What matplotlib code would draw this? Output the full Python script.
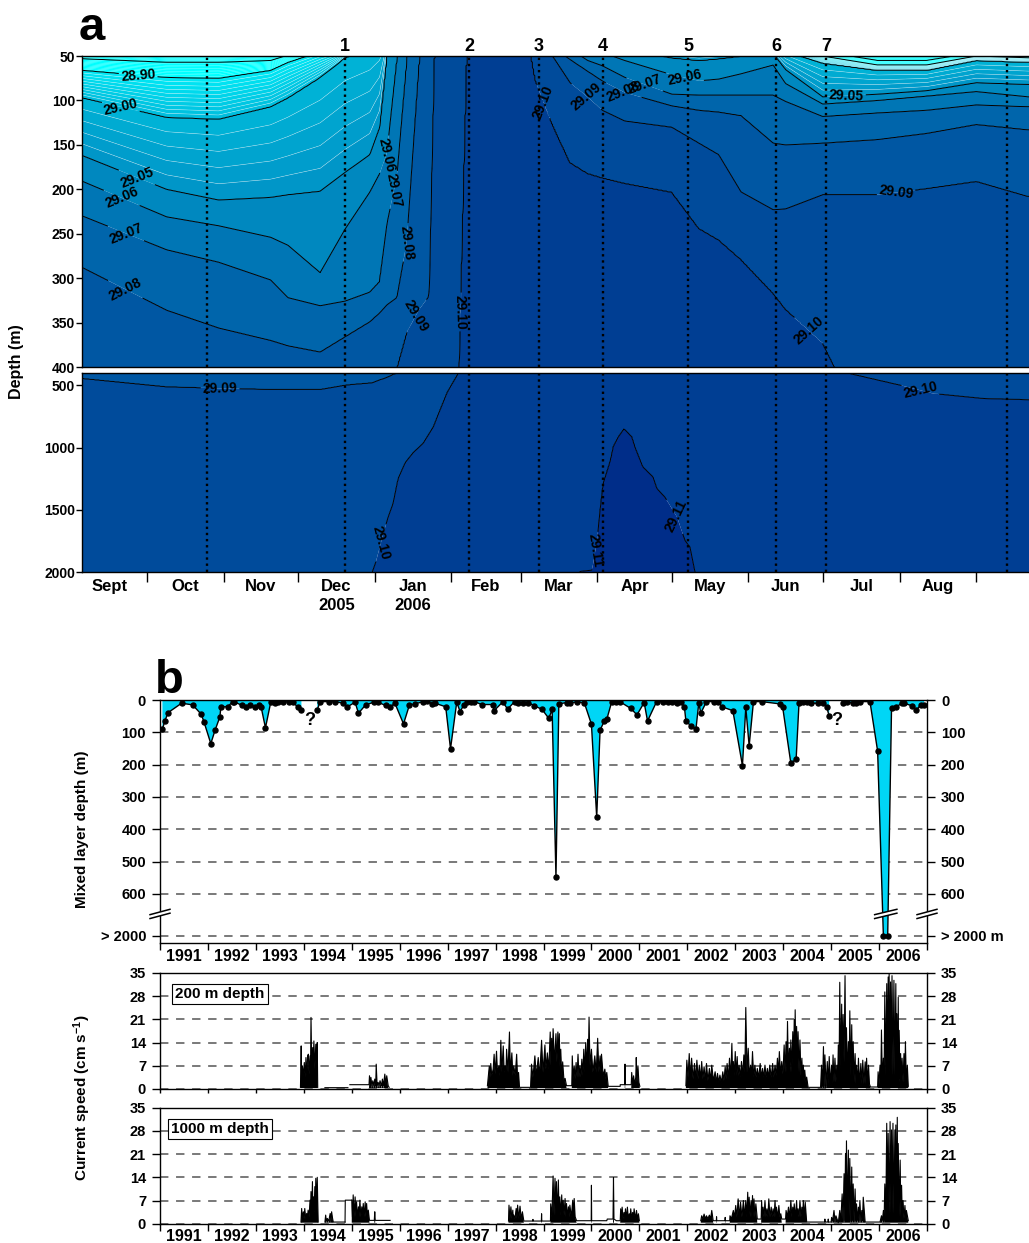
#!/usr/bin/env python3
import numpy as np
import matplotlib
matplotlib.use("Agg")
import matplotlib.pyplot as plt
import matplotlib.transforms as mtransforms

plt.rcParams["font.family"] = ["Liberation Sans", "DejaVu Sans"]
plt.rcParams["font.weight"] = "bold"
plt.rcParams["axes.labelweight"] = "bold"
plt.rcParams["mathtext.default"] = "regular"

# ======================
# Panel a data: depth (m) of each isopycnal at each profile
# time axis = days since 1 Sep 2005
# ======================
sig_levels = [28.70, 28.80, 28.90, 29.00, 29.05, 29.06, 29.07, 29.08, 29.09, 29.10, 29.11]
up_days = [4, 38, 59, 80, 87, 100, 110, 120, 124, 127, 131, 135, 140, 144, 146, 156, 159,
           185, 187, 194, 201, 208, 214, 223, 242, 253, 261, 270, 283, 288, 303, 325, 345, 365, 386]
up_depths = [
    [45, 53, 66, 97, 162, 191, 230, 288, 443, 2600, 3000],
    [46, 57, 74, 119, 200, 231, 268, 336, 510, 2600, 3000],
    [47, 57, 75, 121, 212, 241, 282, 356, 521, 2600, 3000],
    [46, 55, 66, 107, 209, 254, 302, 370, 531, 2600, 3000],
    [40, 49, 57, 97, 206, 263, 322, 376, 531, 2600, 3000],
    [30, 38, 45, 74, 202, 294, 331, 383, 531, 2600, 3000],
    [25, 32, 40, 52, 181, 245, 326, 366, 497, 2600, 3000],
    [20, 25, 32, 42, 161, 203, 316, 349, 478, 2050, 3000],
    [15, 20, 27, 36, 130, 182, 304, 339, 440, 1900, 3000],
    [10, 15, 20, 30, 45, 159, 238, 330, 420, 1600, 3000],
    [8, 12, 16, 25, 38, 50, 185, 322, 400, 1300, 3000],
    [6, 10, 14, 20, 30, 40, 50, 260, 360, 1120, 3000],
    [5, 8, 12, 16, 25, 32, 40, 50, 335, 1000, 3000],
    [4, 6, 10, 14, 20, 28, 35, 42, 320, 900, 3000],
    [3, 5, 8, 12, 18, 25, 32, 40, 50, 800, 3000],
    [2, 4, 6, 10, 15, 20, 28, 35, 42, 400, 3000],
    [2, 4, 6, 10, 15, 20, 25, 30, 38, 50, 3000],
    [2, 4, 6, 10, 15, 20, 25, 30, 38, 45, 3000],
    [2, 4, 6, 10, 15, 20, 25, 32, 45, 77, 3000],
    [3, 5, 8, 12, 18, 25, 32, 40, 50, 128, 3000],
    [4, 6, 10, 15, 22, 30, 42, 54, 80, 170, 3000],
    [5, 8, 12, 18, 28, 40, 55, 67, 96, 182, 3000],
    [6, 10, 15, 22, 35, 46, 61, 78, 111, 187, 3000],
    [8, 12, 18, 28, 42, 55, 74, 91, 123, 193, 3000],
    [10, 15, 22, 40, 52, 71, 93, 106, 130, 203, 3000],
    [10, 15, 22, 42, 55, 78, 94, 111, 148, 244, 3000],
    [10, 15, 22, 42, 53, 76, 94, 113, 161, 257, 3000],
    [10, 15, 22, 40, 50, 70, 94, 117, 203, 279, 3000],
    [10, 15, 22, 38, 47, 60, 94, 148, 223, 317, 3000],
    [15, 22, 30, 45, 65, 81, 101, 150, 222, 335, 3000],
    [40, 45, 50, 58, 96, 104, 118, 148, 206, 373, 3000],
    [47, 55, 60, 66, 93, 100, 114, 144, 206, 497, 3000],
    [47, 55, 60, 66, 89, 95, 111, 137, 199, 564, 3000],
    [40, 46, 50, 55, 80, 90, 105, 127, 191, 604, 3000],
    [40, 47, 52, 57, 82, 96, 107, 133, 208, 614, 3000],
]
lo_levels = [29.08, 29.09, 29.10, 29.11, 29.12]
lo_days = [4.0, 38.0, 59.1, 79.7, 100.4, 110.0, 113.3, 120.9, 122.5, 125.4, 127.4, 129.4, 131.4,
           134.3, 137.5, 141.5, 145.6, 147.2, 151.2, 155.7, 158.9, 200.9, 205.0, 209.8, 211.8,
           213.0, 214.2, 217.1, 218.3, 220.3, 222.7, 226.0, 227.2, 230.4, 234.5, 236.1, 239.3,
           244.2, 247.4, 249.4, 251.4, 253.5, 302.7, 313.2, 334.3, 347.6, 367.8, 386.3]
lo_depths = [
    [300, 443, 2600, 3000, 4000], [336, 510, 2600, 3000, 4000], [356, 521, 2600, 3000, 4000],
    [370, 531, 2600, 3000, 4000], [383, 530, 2600, 3000, 4000], [366, 497, 2600, 3000, 4000],
    [360, 490, 2060, 3000, 4000], [349, 478, 2010, 3000, 4000], [345, 465, 1920, 3000, 4000],
    [340, 445, 1700, 3000, 4000], [335, 430, 1560, 3000, 4000], [325, 410, 1450, 3000, 4000],
    [320, 398, 1250, 3000, 4000], [290, 365, 1120, 3000, 4000], [200, 345, 1040, 3000, 4000],
    [100, 335, 965, 3000, 4000], [50, 310, 833, 3000, 4000], [45, 60, 752, 3000, 4000],
    [40, 50, 555, 3000, 4000], [40, 45, 400, 3000, 4000], [40, 45, 50, 3000, 4000],
    [54, 80, 170, 2080, 4000], [60, 88, 176, 1995, 4000], [70, 100, 184, 1985, 4000],
    [74, 105, 186, 1750, 4000], [77, 108, 187, 1500, 4000], [78, 111, 188, 1290, 4000],
    [82, 114, 190, 1105, 4000], [84, 116, 190, 990, 4000], [86, 118, 191, 914, 4000],
    [90, 122, 193, 846, 4000], [94, 124, 195, 914, 4000], [96, 125, 195, 994, 4000],
    [99, 126, 197, 1155, 4000], [102, 127, 199, 1236, 4000], [103, 128, 200, 1330, 4000],
    [105, 129, 201, 1398, 4000], [107, 130, 205, 1559, 4000], [107, 135, 220, 1747, 4000],
    [108, 140, 232, 1800, 4000], [110, 145, 240, 2000, 4000], [111, 148, 244, 2100, 4000],
    [148, 206, 373, 3000, 4000], [146, 206, 400, 3000, 4000], [140, 205, 497, 3000, 4000],
    [137, 200, 564, 3000, 4000], [127, 192, 604, 3000, 4000], [133, 208, 614, 3000, 4000],
]
event_days = [54.3, 110.0, 160.1, 188.4, 214.3, 248.6, 284.2, 304.4, 377.5]
event_names = ["", "1", "2", "3", "4", "5", "6", "7", ""]
month_edges = [0, 30, 61, 91, 122, 153, 181, 212, 242, 273, 303, 334, 365]
month_names = ["Sept", "Oct", "Nov", "Dec\n2005", "Jan\n2006", "Feb", "Mar", "Apr", "May",
               "Jun", "Jul", "Aug"]

# ======================
# Panel b data
# ======================
DEEP = 2000  # "> 2000 m"
mld = [
    (1991.05, 91), (1991.10, 65), (1991.17, 39), (1991.45, 10), (1991.68, 15), (1991.86, 44),
    (1991.92, 69), (1992.06, 135), (1992.15, 93), (1992.25, 52), (1992.27, 21), (1992.41, 21),
    (1992.52, 5), (1992.55, 6), (1992.72, 17), (1992.79, 22), (1992.87, 15), (1992.98, 22),
    (1993.06, 15), (1993.11, 22), (1993.20, 86), (1993.31, 7), (1993.39, 9), (1993.47, 7),
    (1993.56, 5), (1993.69, 6), (1993.78, 7), (1993.87, 22), (1993.95, 31),
    (np.nan, np.nan),
    (1994.28, 31), (1994.34, 5), (1994.53, 5), (1994.65, 6), (1994.81, 9), (1994.91, 21),
    (1995.07, 7), (1995.14, 41), (1995.29, 15), (1995.46, 7), (1995.54, 7), (1995.71, 17),
    (1995.80, 22), (1995.90, 10), (1996.08, 74), (1996.20, 17), (1996.31, 12), (1996.48, 6),
    (1996.56, 3), (1996.67, 12), (1996.74, 10), (1996.96, 21), (1997.06, 151), (1997.19, 7),
    (1997.26, 36), (1997.34, 15), (1997.41, 5), (1997.49, 5), (1997.56, 5), (1997.71, 14),
    (1997.94, 14), (1997.97, 33), (1998.15, 6), (1998.25, 28), (1998.40, 5), (1998.47, 8),
    (1998.58, 8), (1998.68, 8), (1998.81, 18), (1998.97, 29), (1999.11, 57), (1999.18, 29),
    (1999.26, 549), (1999.32, 12), (1999.48, 8), (1999.56, 8), (1999.70, 7), (1999.85, 8),
    (2000.00, 75), (2000.11, 363), (2000.18, 93), (2000.27, 65), (2000.32, 60), (2000.42, 7),
    (2000.51, 7), (2000.59, 5), (2000.82, 26), (2000.95, 46), (2001.10, 8), (2001.17, 65),
    (2001.36, 5), (2001.50, 5), (2001.60, 5), (2001.69, 5), (2001.78, 10), (2001.87, 5),
    (2001.94, 23), (2001.97, 64), (2002.07, 80), (2002.18, 90), (2002.24, 8), (2002.28, 41),
    (2002.40, 5), (2002.56, 5), (2002.64, 5), (2002.72, 21), (2002.95, 33), (2003.15, 203),
    (2003.22, 23), (2003.29, 142), (2003.38, 5), (2003.55, 5), (2003.93, 12), (2003.99, 23),
    (2004.16, 196), (2004.27, 183), (2004.33, 10), (2004.42, 5), (2004.50, 5), (2004.59, 10),
    (2004.73, 10), (2004.84, 8), (2004.91, 23), (2004.96, 50),
    (np.nan, np.nan),
    (2005.25, 10), (2005.34, 5), (2005.45, 10), (2005.52, 8), (2005.60, 5), (2005.81, 5),
    (2005.97, 158), (2006.09, DEEP), (2006.18, DEEP), (2006.26, 26), (2006.35, 23),
    (2006.47, 10), (2006.52, 10), (2006.69, 18), (2006.78, 31), (2006.87, 15), (2006.94, 15),
]
unknown_years = [1994.12, 2005.12]

GAP = (np.nan, np.nan)
cur200 = [
    (1993.930, 0.5), (1993.945, 13.0), (1993.955, 3.0), (1993.970, 7.0), (1993.990, 4.0),
    (1994.010, 8.0), (1994.030, 3.5), (1994.045, 9.5), (1994.060, 4.0), (1994.080, 10.0),
    (1994.095, 10.5), (1994.110, 4.5), (1994.130, 10.0), (1994.140, 5.0), (1994.150, 21.6),
    (1994.165, 6.0), (1994.185, 12.5), (1994.195, 6.0), (1994.210, 14.5), (1994.230, 6.0),
    (1994.250, 13.5), (1994.265, 7.0), (1994.280, 14.0), (1994.290, 0.5), GAP,
    (1994.44, 0.4), (1994.92, 0.4), GAP,
    (1994.96, 1.3), (1995.36, 1.3), (1995.37, 4.0), (1995.39, 1.5), (1995.40, 3.5), (1995.42, 1.0),
    (1995.44, 2.5), (1995.46, 1.0), (1995.48, 3.0), (1995.50, 1.0), (1995.51, 7.5), (1995.53, 1.0),
    (1995.55, 2.0), (1995.57, 1.0), (1995.59, 2.5), (1995.62, 1.0), (1995.64, 3.0), (1995.66, 1.0),
    (1995.69, 4.5), (1995.71, 1.5), (1995.73, 4.0), (1995.76, 1.0), (1995.78, 0.5), GAP,
    (1997.83, 1.0), (1997.85, 4.0), (1997.87, 7.0), (1997.885, 3.5), (1997.90, 7.7), (1997.92, 4.0),
    (1997.95, 6.0), (1997.97, 10.5), (1997.99, 4.5), (1998.02, 11.4), (1998.04, 5.0), (1998.07, 7.0),
    (1998.09, 4.0), (1998.11, 14.7), (1998.13, 5.0), (1998.16, 13.0), (1998.18, 5.0), (1998.20, 7.0),
    (1998.215, 4.0), (1998.23, 12.0), (1998.26, 5.0), (1998.29, 17.2), (1998.31, 5.0),
    (1998.34, 10.9), (1998.36, 4.0), (1998.38, 7.0), (1998.41, 4.0), (1998.44, 10.5), (1998.46, 3.0),
    (1998.48, 5.0), (1998.50, 0.5), (1998.73, 0.5),
    (1998.75, 7.5), (1998.78, 3.5), (1998.82, 10.0), (1998.85, 4.0), (1998.89, 9.5), (1998.92, 4.0),
    (1998.96, 14.7), (1998.99, 5.0), (1999.03, 13.3), (1999.05, 6.0), (1999.08, 10.9), (1999.11, 6.0),
    (1999.14, 17.2), (1999.155, 7.0), (1999.17, 15.3), (1999.185, 7.0), (1999.20, 18.2),
    (1999.23, 8.0), (1999.26, 16.7), (1999.28, 8.0), (1999.30, 17.2), (1999.315, 8.0),
    (1999.33, 16.7), (1999.345, 6.0), (1999.36, 12.0), (1999.38, 4.0), (1999.40, 8.2), (1999.43, 2.0),
    (1999.45, 3.2), (1999.48, 1.0), (1999.59, 1.0),
    (1999.60, 10.0), (1999.62, 3.0), (1999.64, 7.0), (1999.66, 3.0), (1999.68, 8.0), (1999.70, 3.5),
    (1999.72, 10.5), (1999.74, 3.5), (1999.76, 7.0), (1999.78, 3.5), (1999.80, 9.0), (1999.82, 4.0),
    (1999.84, 12.0), (1999.86, 5.0), (1999.88, 14.0), (1999.90, 6.0), (1999.92, 15.0),
    (1999.935, 7.0), (1999.95, 21.7), (1999.97, 7.0), (2000.00, 12.0), (2000.03, 5.0),
    (2000.07, 10.0), (2000.10, 5.0), (2000.13, 15.3), (2000.155, 5.0), (2000.18, 10.0),
    (2000.195, 5.0), (2000.21, 10.5), (2000.245, 4.0), (2000.28, 6.0), (2000.30, 3.0),
    (2000.32, 5.0), (2000.35, 0.8), (2000.60, 0.8), (2000.60, 1.3), (2000.695, 1.3), (2000.70, 7.5),
    (2000.705, 1.3), (2000.83, 1.3),
    (2000.84, 5.0), (2000.86, 1.5), (2000.88, 4.0), (2000.90, 1.5), (2000.925, 3.5), (2000.935, 9.5),
    (2000.95, 2.0), (2000.97, 7.0), (2000.99, 2.0), (2001.01, 0.8), GAP,
    (2001.97, 1.0), (2001.99, 8.7), (2002.015, 3.5), (2002.04, 10.7), (2002.065, 3.5), (2002.09, 9.3),
    (2002.12, 3.0), (2002.15, 7.7), (2002.175, 3.0), (2002.20, 8.7), (2002.225, 3.0), (2002.25, 7.2),
    (2002.275, 3.0), (2002.30, 8.3), (2002.325, 3.0), (2002.35, 6.7), (2002.375, 2.5),
    (2002.40, 7.7), (2002.43, 2.5), (2002.46, 6.2), (2002.485, 2.5), (2002.51, 7.2), (2002.545, 2.5),
    (2002.58, 5.2), (2002.605, 2.0), (2002.63, 4.7), (2002.655, 2.0), (2002.68, 4.2), (2002.71, 2.0),
    (2002.74, 5.2), (2002.765, 2.5), (2002.79, 6.7), (2002.81, 3.0), (2002.83, 7.7), (2002.855, 3.0),
    (2002.88, 9.3), (2002.905, 3.5), (2002.93, 13.8), (2002.945, 4.0), (2002.96, 8.3),
    (2002.98, 4.0), (2003.00, 11.3), (2003.02, 4.0), (2003.04, 9.8), (2003.06, 4.0), (2003.08, 7.2),
    (2003.105, 3.5), (2003.13, 8.3), (2003.155, 4.0), (2003.18, 10.3), (2003.20, 5.0),
    (2003.22, 24.6), (2003.245, 5.0), (2003.27, 12.3), (2003.295, 4.0), (2003.32, 7.2),
    (2003.34, 4.0), (2003.36, 11.3), (2003.385, 3.5), (2003.41, 7.2), (2003.435, 3.5),
    (2003.46, 6.2), (2003.49, 3.5), (2003.52, 7.7), (2003.545, 3.5), (2003.57, 6.2), (2003.595, 3.5),
    (2003.62, 7.2), (2003.645, 3.5), (2003.67, 6.2), (2003.695, 3.5), (2003.72, 7.2), (2003.75, 3.5),
    (2003.78, 7.7), (2003.805, 3.5), (2003.83, 7.2), (2003.855, 4.0), (2003.88, 9.3), (2003.90, 4.5),
    (2003.92, 11.3), (2003.945, 4.5), (2003.97, 8.3), (2003.995, 4.5), (2004.02, 13.3),
    (2004.04, 5.0), (2004.06, 14.3), (2004.075, 5.0), (2004.09, 20.4), (2004.11, 5.0),
    (2004.13, 12.3), (2004.145, 5.0), (2004.16, 14.8), (2004.18, 5.0), (2004.20, 17.3),
    (2004.215, 6.0), (2004.23, 20.9), (2004.24, 7.0), (2004.25, 23.9), (2004.265, 7.0),
    (2004.28, 18.9), (2004.295, 6.0), (2004.31, 17.3), (2004.33, 5.0), (2004.35, 14.8),
    (2004.37, 4.0), (2004.39, 9.3), (2004.405, 3.0), (2004.42, 7.2), (2004.435, 2.5), (2004.45, 5.7),
    (2004.47, 2.0), (2004.49, 3.6), (2004.52, 0.5), (2004.78, 0.5),
    (2004.80, 7.2), (2004.82, 0.8), (2004.84, 12.8), (2004.855, 1.0), (2004.87, 10.3),
    (2004.895, 1.0), (2004.92, 8.3), (2004.94, 1.5), (2004.96, 9.8), (2004.985, 1.5), (2005.01, 7.2),
    (2005.025, 1.5), (2005.04, 10.3), (2005.06, 2.0), (2005.08, 9.3), (2005.10, 2.0), (2005.12, 7.2),
    (2005.135, 2.0), (2005.15, 13.3), (2005.165, 3.0), (2005.18, 32.2), (2005.20, 6.0),
    (2005.22, 25.6), (2005.235, 6.0), (2005.25, 22.5), (2005.27, 8.0), (2005.29, 34.2),
    (2005.305, 6.0), (2005.32, 18.5), (2005.34, 4.0), (2005.36, 14.3), (2005.375, 4.0),
    (2005.39, 23.6), (2005.41, 4.0), (2005.43, 19.4), (2005.445, 3.0), (2005.46, 14.3),
    (2005.48, 2.0), (2005.50, 10.7), (2005.515, 1.5), (2005.53, 7.2), (2005.55, 1.5), (2005.57, 9.3),
    (2005.595, 1.5), (2005.62, 7.7), (2005.64, 1.5), (2005.66, 8.7), (2005.685, 1.5), (2005.71, 8.2),
    (2005.725, 1.5), (2005.74, 9.3), (2005.76, 1.5), (2005.78, 7.2), (2005.80, 1.5), (2005.82, 0.6),
    (2005.97, 0.6),
    (2005.98, 5.2), (2006.00, 1.5), (2006.02, 7.2), (2006.035, 1.5), (2006.05, 17.8), (2006.07, 2.0),
    (2006.09, 9.3), (2006.105, 3.0), (2006.12, 29.3), (2006.14, 4.0), (2006.16, 31.8),
    (2006.175, 4.0), (2006.19, 33.8), (2006.20, 6.0), (2006.21, 35.0), (2006.225, 5.0),
    (2006.24, 32.3), (2006.255, 5.0), (2006.27, 34.2), (2006.29, 4.0), (2006.31, 32.8),
    (2006.33, 4.0), (2006.35, 31.8), (2006.36, 4.0), (2006.37, 22.7), (2006.385, 3.0),
    (2006.40, 27.7), (2006.41, 3.0), (2006.42, 17.7), (2006.435, 2.0), (2006.45, 10.7),
    (2006.465, 2.0), (2006.48, 9.3), (2006.50, 2.0), (2006.52, 10.7), (2006.535, 2.0),
    (2006.55, 14.3), (2006.57, 1.5), (2006.59, 7.2), (2006.61, 0.8),
]
cur1000 = [
    (1993.94, 0.5), (1993.955, 4.6), (1993.97, 1.5), (1993.99, 3.6), (1994.005, 1.5), (1994.02, 4.6),
    (1994.04, 1.5), (1994.06, 3.1), (1994.075, 1.5), (1994.09, 4.1), (1994.11, 2.0), (1994.13, 7.1),
    (1994.14, 3.0), (1994.15, 9.7), (1994.165, 3.0), (1994.18, 12.7), (1994.19, 3.0), (1994.20, 8.1),
    (1994.215, 3.5), (1994.23, 11.2), (1994.24, 4.0), (1994.25, 13.7), (1994.265, 5.0),
    (1994.28, 14.0), (1994.30, 0.5), GAP,
    (1994.44, 0.5), (1994.456, 2.6), (1994.47, 0.8), (1994.49, 1.6), (1994.52, 0.8), (1994.55, 3.1),
    (1994.565, 0.8), (1994.58, 3.6), (1994.60, 1.6), (1994.615, 0.5), (1994.86, 0.5), GAP,
    (1995.00, 7.1), (1995.015, 2.0), (1995.03, 8.7), (1995.05, 2.0), (1995.07, 8.1), (1995.085, 2.0),
    (1995.10, 6.6), (1995.12, 2.0), (1995.14, 5.1), (1995.155, 2.0), (1995.17, 7.1), (1995.19, 2.0),
    (1995.21, 5.1), (1995.225, 2.0), (1995.24, 6.1), (1995.26, 2.0), (1995.28, 6.6), (1995.295, 2.0),
    (1995.31, 6.1), (1995.33, 1.6), (1995.345, 4.1), (1995.37, 1.0), (1995.47, 1.0), (1995.48, 3.6),
    (1995.49, 1.0), (1995.80, 1.0), GAP,
    (1998.27, 0.8), (1998.28, 5.6), (1998.30, 1.5), (1998.32, 5.1), (1998.34, 1.5), (1998.36, 4.1),
    (1998.37, 1.5), (1998.38, 2.6), (1998.405, 1.5), (1998.43, 4.6), (1998.445, 1.5), (1998.46, 5.6),
    (1998.485, 1.5), (1998.51, 5.3), (1998.535, 1.5), (1998.56, 3.6), (1998.59, 0.8), (1998.775, 0.8),
    (1998.78, 1.3), (1998.785, 0.8), (1998.955, 0.8), (1998.96, 3.0), (1998.965, 0.8), (1999.145, 0.8),
    (1999.15, 6.0), (1999.175, 2.0), (1999.20, 14.4), (1999.22, 2.5), (1999.24, 13.7),
    (1999.255, 2.5), (1999.27, 12.7), (1999.29, 2.5), (1999.31, 13.2), (1999.325, 2.5),
    (1999.34, 8.1), (1999.36, 2.5), (1999.38, 8.7), (1999.395, 2.5), (1999.41, 7.1), (1999.43, 2.5),
    (1999.45, 7.6), (1999.465, 2.0), (1999.48, 6.1), (1999.50, 2.0), (1999.52, 5.1), (1999.535, 2.0),
    (1999.55, 5.6), (1999.58, 2.0), (1999.61, 7.1), (1999.625, 2.0), (1999.64, 7.6), (1999.66, 2.1),
    (1999.69, 0.9), (1999.995, 0.9), (2000.00, 11.6), (2000.005, 0.9), (2000.32, 0.9), (2000.33, 1.4),
    (2000.45, 1.4), (2000.46, 13.9), (2000.47, 1.4), (2000.52, 0.9),
    (2000.60, 0.9), (2000.61, 4.5), (2000.625, 1.5), (2000.64, 5.0), (2000.66, 1.5), (2000.68, 3.4),
    (2000.695, 1.5), (2000.71, 4.5), (2000.73, 1.5), (2000.75, 5.0), (2000.77, 1.5), (2000.79, 3.0),
    (2000.805, 1.5), (2000.82, 4.5), (2000.84, 1.5), (2000.86, 3.4), (2000.875, 1.5), (2000.89, 4.5),
    (2000.915, 1.5), (2000.94, 4.0), (2000.96, 1.5), (2000.98, 3.0), (2001.00, 0.9), GAP,
    (2002.28, 0.9), (2002.30, 2.4), (2002.325, 1.5), (2002.35, 2.9), (2002.375, 1.5), (2002.40, 2.4),
    (2002.43, 1.5), (2002.46, 2.6), (2002.485, 1.5), (2002.51, 4.0), (2002.54, 0.9), (2002.605, 0.9),
    (2002.61, 2.1), (2002.615, 0.9), (2002.785, 0.9), (2002.79, 1.9), (2002.795, 0.9),
    (2002.885, 0.9), (2002.89, 2.4), (2002.92, 1.5),
    (2002.96, 4.0), (2002.985, 2.0), (2003.01, 5.5), (2003.035, 2.0), (2003.06, 7.5), (2003.085, 2.0),
    (2003.11, 6.5), (2003.14, 2.0), (2003.17, 7.0), (2003.195, 2.0), (2003.22, 7.0), (2003.24, 2.0),
    (2003.26, 9.5), (2003.275, 2.0), (2003.29, 8.0), (2003.31, 2.0), (2003.33, 7.0), (2003.345, 2.0),
    (2003.36, 8.5), (2003.375, 2.0), (2003.39, 7.5), (2003.41, 2.0), (2003.43, 6.0), (2003.46, 1.4),
    (2003.54, 1.4),
    (2003.55, 7.0), (2003.565, 2.0), (2003.58, 5.0), (2003.60, 2.0), (2003.62, 7.0), (2003.64, 2.0),
    (2003.66, 4.5), (2003.68, 2.0), (2003.70, 7.5), (2003.725, 2.0), (2003.75, 5.0), (2003.77, 2.0),
    (2003.79, 4.5), (2003.81, 2.0), (2003.83, 7.0), (2003.845, 2.0), (2003.86, 5.0), (2003.885, 2.0),
    (2003.91, 5.5), (2003.93, 2.0), (2003.95, 3.0), (2003.97, 1.4), (2004.05, 1.4),
    (2004.06, 4.0), (2004.085, 2.0), (2004.11, 5.0), (2004.135, 2.0), (2004.16, 7.0), (2004.18, 2.0),
    (2004.20, 5.0), (2004.215, 2.0), (2004.23, 6.0), (2004.255, 2.0), (2004.28, 7.0), (2004.295, 2.0),
    (2004.31, 4.5), (2004.33, 2.0), (2004.35, 7.0), (2004.37, 2.0), (2004.39, 5.0), (2004.405, 2.0),
    (2004.42, 7.0), (2004.44, 2.0), (2004.46, 6.5), (2004.49, 0.5), (2004.865, 0.5), (2004.87, 1.4),
    (2004.875, 0.5), (2004.935, 0.5), (2004.94, 1.4), (2004.945, 0.5), (2005.00, 0.5), (2005.01, 1.9),
    (2005.03, 0.8), (2005.06, 4.0), (2005.08, 0.8), (2005.10, 2.4), (2005.15, 0.3),
    (2005.18, 4.0), (2005.20, 0.5), (2005.23, 9.0), (2005.25, 1.0), (2005.27, 15.1), (2005.285, 1.0),
    (2005.30, 21.2), (2005.31, 2.0), (2005.32, 25.0), (2005.34, 2.0), (2005.36, 22.2),
    (2005.375, 2.0), (2005.39, 19.7), (2005.41, 1.0), (2005.43, 17.1), (2005.445, 1.0),
    (2005.46, 12.0), (2005.48, 1.0), (2005.50, 10.5), (2005.515, 1.0), (2005.53, 6.0), (2005.55, 1.0),
    (2005.57, 5.0), (2005.585, 1.0), (2005.60, 7.0), (2005.62, 1.0), (2005.64, 4.0), (2005.655, 1.0),
    (2005.67, 8.0), (2005.71, 0.5), (2006.02, 0.5),
    (2006.05, 2.4), (2006.07, 1.0), (2006.09, 4.0), (2006.105, 1.0), (2006.12, 12.0), (2006.14, 2.0),
    (2006.16, 30.3), (2006.175, 3.0), (2006.19, 27.3), (2006.21, 3.0), (2006.23, 30.8),
    (2006.245, 3.0), (2006.26, 28.3), (2006.275, 3.0), (2006.29, 30.3), (2006.31, 3.0),
    (2006.33, 28.3), (2006.34, 3.0), (2006.35, 29.8), (2006.365, 3.0), (2006.38, 32.1),
    (2006.39, 3.0), (2006.40, 24.2), (2006.42, 2.0), (2006.44, 19.2), (2006.455, 2.0),
    (2006.47, 11.6), (2006.485, 1.5), (2006.50, 7.0), (2006.52, 1.5), (2006.54, 5.5),
    (2006.555, 1.5), (2006.57, 4.0), (2006.61, 0.9),
]
# record gap at 1000 m drawn as a plain step line
cur1000_step = [(1994.86, 0.5), (1994.865, 7.1), (1994.98, 7.1), (1995.00, 7.1)]

# ======================
# Figure layout (pixel boxes)
# ======================
W, H = 1029, 1243
fig = plt.figure(figsize=(W / 100, H / 100), dpi=100)


def add_ax(l, t, r, b):
    return fig.add_axes([l / W, 1 - b / H, (r - l) / W, (b - t) / H])


# ---- colours for 0.01 density bands
bands = np.round(np.arange(28.69, 29.135, 0.01), 2)
anchor_v = [28.70, 28.895, 28.905, 28.995, 29.005, 29.045, 29.055, 29.065, 29.075, 29.085,
            29.095, 29.105, 29.115, 29.125]
anchor_rgb = np.array([(0, 255, 255), (0, 255, 255), (0, 232, 244), (0, 190, 222), (0, 178, 214),
                       (0, 150, 200), (0, 136, 191), (0, 118, 181), (0, 101, 171), (0, 87, 163),
                       (0, 75, 155), (0, 62, 147), (0, 45, 137), (0, 40, 133)]) / 255
mids = (bands[:-1] + bands[1:]) / 2
band_colors = [tuple(np.interp(m, anchor_v, anchor_rgb[:, k]) for k in range(3)) for m in mids]

black_lv = [28.80, 28.90, 29.00, 29.05, 29.06, 29.07, 29.08, 29.09, 29.10, 29.11]
white_lv = [v for v in np.round(np.arange(28.91, 29.045, 0.01), 2) if v != 29.00]

ax_up = add_ax(82, 56, 1029, 367)
ax_lo = add_ax(82, 373, 1029, 572)

XLIM = (3.8, 386.3)
x_fine = np.linspace(XLIM[0], XLIM[1], 800)


def section_field(days, depths, levels, z):
    # isopycnals run straight between profiles; field built column by column
    dep = np.array(depths, dtype=float)
    iso = np.array([np.interp(x_fine, days, dep[:, k]) for k in range(dep.shape[1])])
    return np.array([np.interp(z, iso[:, i], levels) for i in range(len(x_fine))]).T


z_up = np.linspace(50, 400, 351)
z_lo = np.linspace(400, 2000, 401)
F_up = section_field(up_days, up_depths, sig_levels, z_up)
F_lo = section_field(lo_days, lo_depths, lo_levels, z_lo)

up_lab = [(26.4, 73.6), (19.5, 107), (25.6, 189.5), (19.5, 212), (21.1, 252.6), (20.7, 315.6),
          (126.6, 161), (129.8, 200.8), (135.9, 260), (139.5, 343.7), (159.0, 339),
          (189.6, 101.8), (207.4, 96), (222.0, 91.6), (231.0, 82.6), (247.0, 78),
          (312.5, 92.8), (332.6, 203), (297.5, 358)]
lo_lab = [(59.6, 513), (124.6, 1766), (211.8, 1831), (241.4, 1581), (342.4, 537)]

for ax, zz, F, labs in ((ax_up, z_up, F_up, up_lab), (ax_lo, z_lo, F_lo, lo_lab)):
    ax.contourf(x_fine, zz, F, levels=bands, colors=band_colors, antialiased=True)
    ax.contour(x_fine, zz, F, levels=white_lv, colors="white", linewidths=0.4, alpha=0.5)
    cs = ax.contour(x_fine, zz, F, levels=black_lv, colors="k", linewidths=0.7)
    ax.clabel(cs, fmt="%.2f", fontsize=10, inline=True, inline_spacing=2, manual=labs)
    for d in event_days:
        ax.axvline(d, color="k", ls=(0, (1, 1.6)), lw=1.7)
    ax.spines["right"].set_visible(False)
    for s in ax.spines.values():
        s.set_linewidth(1.0)
    ax.tick_params(axis="y", direction="out", length=4, width=1, pad=1, labelsize=10)

ax_up.set_yticks(np.arange(50, 401, 50))
ax_up.set_ylim(400, 50)
ax_up.set_xticks([])
ax_lo.set_yticks([500, 1000, 1500, 2000])
ax_lo.set_ylim(2000, 400)
ax_lo.set_xticks(month_edges)
ax_lo.set_xticklabels([])
ax_lo.set_xticks([(a + b) / 2 for a, b in zip(month_edges[:-1], month_edges[1:])], minor=True)
ax_lo.set_xticklabels(month_names, minor=True, fontsize=12, linespacing=1.3)
ax_lo.tick_params(axis="x", which="major", direction="out", length=7.5, width=1)
ax_lo.tick_params(axis="x", which="minor", length=0, pad=5)
for ax in (ax_up, ax_lo):
    ax.set_xlim(*XLIM)

tr = mtransforms.blended_transform_factory(ax_up.transData, ax_up.transAxes)
for d, name in zip(event_days, event_names):
    ax_up.text(d, 1.016, name, transform=tr, ha="center", va="baseline", fontsize=13)

fig.text(79 / W, 1 - 40 / H, "a", fontsize=34, fontweight="bold", va="baseline")
fig.text(17 / W, 1 - 362 / H, "Depth (m)", rotation=90, ha="center", va="center", fontsize=11.5)

# ======================
# Panel b
# ======================
year_edges = np.arange(1991, 2008)
year_mids = year_edges[:-1] + 0.5
DEEP_POS = 730  # plotting position of the "> 2000" row

ax_ml = add_ax(160, 700, 927, 943)
ax_c2 = add_ax(160, 973, 927, 1089)
ax_c1 = add_ax(160, 1107.7, 927, 1223.7)

ml = np.array(mld, dtype=float)
ml_t = ml[:, 0]
ml_d = np.where(ml[:, 1] >= DEEP, DEEP_POS, ml[:, 1])
ax_ml.fill_between(ml_t, 0, ml_d, color="#00d6f6", lw=0, zorder=2)
ax_ml.plot(ml_t, ml_d, color="k", lw=1.0, zorder=3)
ax_ml.plot(ml_t, ml_d, "o", color="k", ms=3.6, zorder=4)
for yq in unknown_years:
    ax_ml.text(yq, 62, "?", ha="center", va="center", fontsize=13, zorder=4)

ml_ticks = [0, 100, 200, 300, 400, 500, 600, DEEP_POS]
ax_ml.set_xlim(1991, 2007)
ax_ml.set_ylim(752, 0)
ax_ml.set_yticks(ml_ticks)
ax_ml.set_yticklabels(["0", "100", "200", "300", "400", "500", "600", "> 2000"])
ax_ml.grid(axis="y", color="#555555", lw=1.1, ls=(0, (5.5, 5)), zorder=1)
ax_mr = ax_ml.twinx()
ax_mr.set_ylim(752, 0)
ax_mr.set_yticks(ml_ticks)
ax_mr.set_yticklabels(["0", "100", "200", "300", "400", "500", "600", "> 2000 m"])
for s in ax_mr.spines.values():
    s.set_visible(False)
for a in (ax_ml, ax_mr):
    a.tick_params(axis="y", direction="out", length=6, width=1, pad=4, labelsize=10.5)


def break_mark(ax, xc, yc, w, zorder=6):
    rise, gap = 0.011, 0.008
    poly = plt.Polygon([(xc - w, yc - gap - rise), (xc + w, yc - gap + rise),
                        (xc + w, yc + gap + rise), (xc - w, yc + gap - rise)],
                       closed=True, transform=ax.transAxes, facecolor="white",
                       edgecolor="none", clip_on=False, zorder=zorder)
    ax.add_patch(poly)
    for s in (-gap, gap):
        ax.plot([xc - w, xc + w], [yc + s - rise, yc + s + rise], color="k", lw=1.1,
                transform=ax.transAxes, clip_on=False, zorder=zorder + 1)


yb = (752 - 662) / 752
break_mark(ax_ml, 0.0, yb, 0.013)
break_mark(ax_ml, 1.0, yb, 0.013)
break_mark(ax_ml, (2006.14 - 1991) / 16, yb, 0.0145)

for ax, series, tag in ((ax_c2, cur200, "200 m depth"), (ax_c1, cur1000, "1000 m depth")):
    c = np.array(series, dtype=float)
    t, v = c[:, 0], c[:, 1]
    ok = np.isfinite(v)
    ax.fill_between(t, 0.3, v, where=ok & (v > 1.45), interpolate=True, color="k", lw=0,
                    zorder=2)
    ax.plot(t, v, color="k", lw=0.8, zorder=3)
    ax.set_xlim(1991, 2007)
    ax.set_ylim(0, 35)
    ax.set_yticks([0, 7, 14, 21, 28, 35])
    ax.grid(axis="y", color="#555555", lw=1.1, ls=(0, (5.5, 5)), zorder=1)
    ax.tick_params(axis="y", direction="out", length=6, width=1, pad=4, labelsize=10.5,
                   right=True, labelright=True)
    ax.text(0.078, 0.82, tag, transform=ax.transAxes, ha="center", va="center", fontsize=11,
            zorder=5, bbox=dict(boxstyle="square,pad=0.2", fc="white", ec="k", lw=0.8))

st = np.array(cur1000_step, dtype=float)
ax_c1.plot(st[:, 0], st[:, 1], color="k", lw=0.8, zorder=3)

for ax in (ax_ml, ax_c2, ax_c1):
    ax.set_xticks(year_edges)
    ax.set_xticklabels([])
    ax.tick_params(axis="x", which="major", direction="out", length=5, width=1)
    for s in ax.spines.values():
        s.set_linewidth(1.0)
for ax in (ax_ml, ax_c1):
    ax.set_xticks(year_mids, minor=True)
    ax.set_xticklabels([str(int(y)) for y in year_edges[:-1]], minor=True, fontsize=11.5)
    ax.tick_params(axis="x", which="minor", length=0, pad=4)
ax_c2.tick_params(axis="x", which="major", length=3)
for ax in (ax_ml, ax_c2, ax_c1):
    ax.set_xlim(1991, 2007)

fig.text(155 / W, 1 - 693 / H, "b", fontsize=34, fontweight="bold", va="baseline")
fig.text(82 / W, 1 - 829 / H, "Mixed layer depth (m)", rotation=90, ha="center", va="center",
         fontsize=11)
fig.text(82 / W, 1 - 1098 / H, "Current speed (cm s$^{-1}$)", rotation=90, ha="center",
         va="center", fontsize=11)

fig.savefig("out.png", dpi=100)
